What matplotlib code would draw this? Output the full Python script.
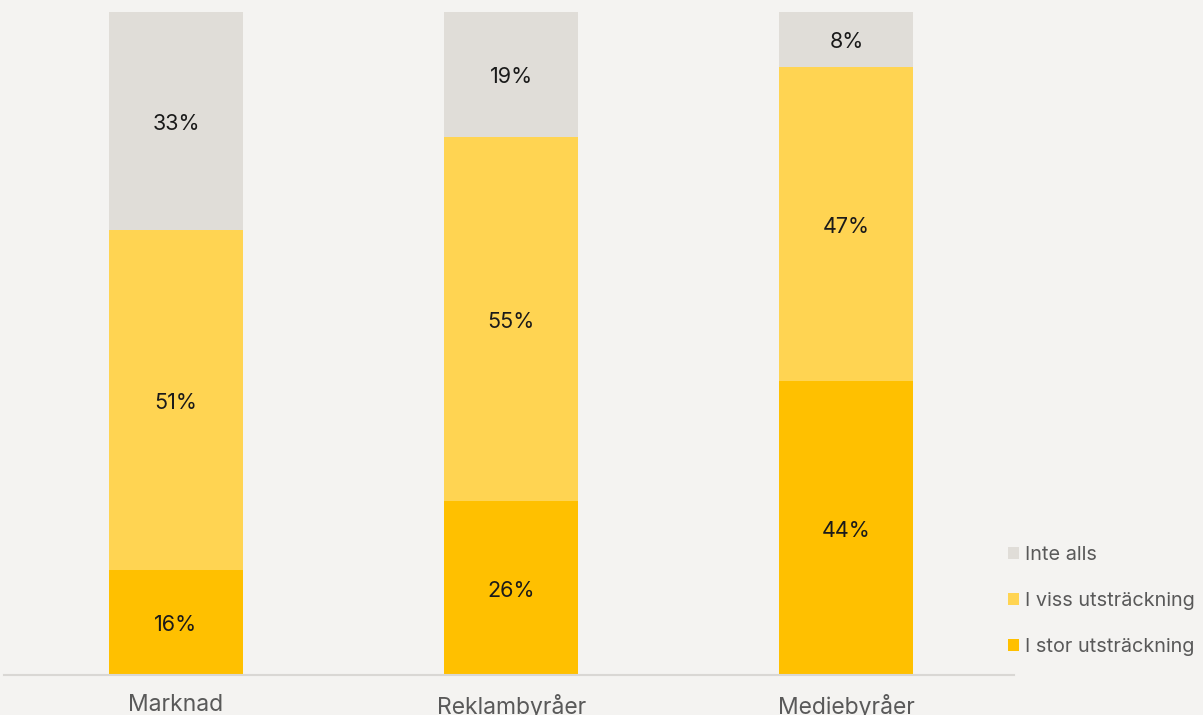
import matplotlib
matplotlib.use("Agg")
import matplotlib.pyplot as plt
import numpy as np

categories = ["Marknad", "Reklambyråer", "Mediebyråer"]
series_names = ["I stor utsträckning", "I viss utsträckning", "Inte alls"]
stor = [15.8, 26.2, 44.3]
viss = [51.3, 54.9, 47.4]
inte = [32.9, 18.9, 8.3]
colors = ["#FFC000", "#FFD452", "#E0DDD8"]

plt.rcParams['font.family'] = ['Inter', 'DejaVu Sans']
bg = "#F4F3F1"
fig = plt.figure(figsize=(12.03, 7.15), dpi=100, facecolor=bg)
ax = fig.add_axes([4/1203, 1-675/715, (1014-4)/1203, (675-12)/715])
ax.set_facecolor(bg)

x = np.arange(len(categories))
bottom = np.zeros(len(categories))
handles = []
for vals, name, col in zip([stor, viss, inte], series_names, colors):
    vals = np.array(vals)
    b = ax.bar(x, vals, 0.4, bottom=bottom, color=col, label=name, linewidth=0)
    handles.append(b)
    for xi, v, bt in zip(x, vals, bottom):
        ax.annotate(f"{round(v):.0f}%", (xi, bt + v/2), xytext=(0, -2),
                    textcoords='offset points', ha='center', va='center',
                    fontsize=15.5, color="#1a1a1a")
    bottom += vals

ax.set_xlim(-0.513, 2.50)
ax.set_ylim(0, 100)
ax.set_yticks([])
ax.set_xticks(x)
ax.set_xticklabels(categories, fontsize=16.5, color="#595959")
ax.tick_params(axis='x', length=0, pad=14)
for s in ['top', 'right', 'left']:
    ax.spines[s].set_visible(False)
ax.spines['bottom'].set_color("#D9D7D4")
ax.spines['bottom'].set_linewidth(1.5)

leg = fig.legend(handles[::-1], series_names[::-1], loc='center left',
                 bbox_to_anchor=(1008/1203, 1-601/715), frameon=False,
                 fontsize=14.3, labelcolor="#595959", handlelength=0.55,
                 handleheight=0.55, handletextpad=0.3, labelspacing=1.4,
                 borderaxespad=0, borderpad=0)

fig.savefig("out.png", dpi=100, facecolor=bg)
